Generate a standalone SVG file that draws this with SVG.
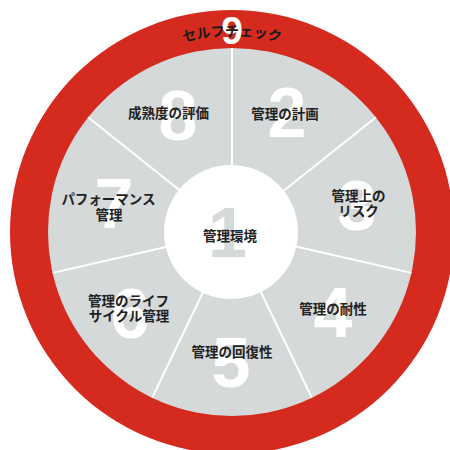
<svg xmlns="http://www.w3.org/2000/svg" width="450" height="450" viewBox="0 0 450 450">
<style>
.num{font-family:"Liberation Sans",Arial,sans-serif;font-weight:bold;font-size:70px;fill:#ffffff;text-anchor:middle}
.lbl{font-family:"Noto Sans CJK JP","Noto Sans",sans-serif;font-weight:bold;font-size:13.5px;fill:#222222;text-anchor:middle}
.spoke{stroke:#ffffff;stroke-width:2}
</style>
<defs>
<path id="arc" d="M 106.0 81.9 A 196 196 0 0 1 358.0 81.9"/>
</defs>
<rect width="450" height="450" fill="#ffffff"/>
<g id="ring">
<circle cx="232" cy="232" r="222" fill="#d52b1f"/>
<text class="num" x="232" y="44" style="font-size:39px">9</text>
<text class="lbl" style="font-size:14px;fill:#1a1a1a"><textPath href="#arc" startOffset="50%">セルフチェック</textPath></text>
</g>
<g id="wheel">
<circle cx="232" cy="232" r="184" fill="#d6d9da"/>
</g>
<g id="connectors">
<line class="spoke" x1="232" y1="232" x2="232" y2="48"/>
<line class="spoke" x1="232" y1="232" x2="375.9" y2="117.3"/>
<line class="spoke" x1="232" y1="232" x2="411.4" y2="272.9"/>
<line class="spoke" x1="232" y1="232" x2="311.8" y2="397.8"/>
<line class="spoke" x1="232" y1="232" x2="152.2" y2="397.8"/>
<line class="spoke" x1="232" y1="232" x2="52.6" y2="272.9"/>
<line class="spoke" x1="232" y1="232" x2="88.1" y2="117.3"/>
</g>
<g id="node1">
<circle cx="231" cy="232" r="67" fill="#ffffff"/>
<text class="num" x="227.5" y="257" style="fill:#d6d9da">1</text>
<text class="lbl" x="230" y="241">管理環境</text>
</g>
<g id="node2">
<text class="num" x="287" y="137">2</text>
<text class="lbl" x="285" y="118.5">管理の計画</text>
</g>
<g id="node3">
<text class="num" x="357" y="230">3</text>
<text class="lbl" x="358.5" y="200.5">管理上の</text>
<text class="lbl" x="358.5" y="215.5">リスク</text>
</g>
<g id="node4">
<text class="num" x="333" y="337">4</text>
<text class="lbl" x="333" y="313.5">管理の耐性</text>
</g>
<g id="node5">
<text class="num" x="231" y="387">5</text>
<text class="lbl" x="232" y="357">管理の回復性</text>
</g>
<g id="node6">
<text class="num" x="130" y="338">6</text>
<text class="lbl" x="128.5" y="306">管理のライフ</text>
<text class="lbl" x="129" y="321">サイクル管理</text>
</g>
<g id="node7">
<text class="num" x="114" y="228">7</text>
<text class="lbl" x="108.5" y="204">パフォーマンス</text>
<text class="lbl" x="109" y="219.5">管理</text>
</g>
<g id="node8">
<text class="num" x="178" y="140">8</text>
<text class="lbl" x="168.5" y="118">成熟度の評価</text>
</g>
</svg>
